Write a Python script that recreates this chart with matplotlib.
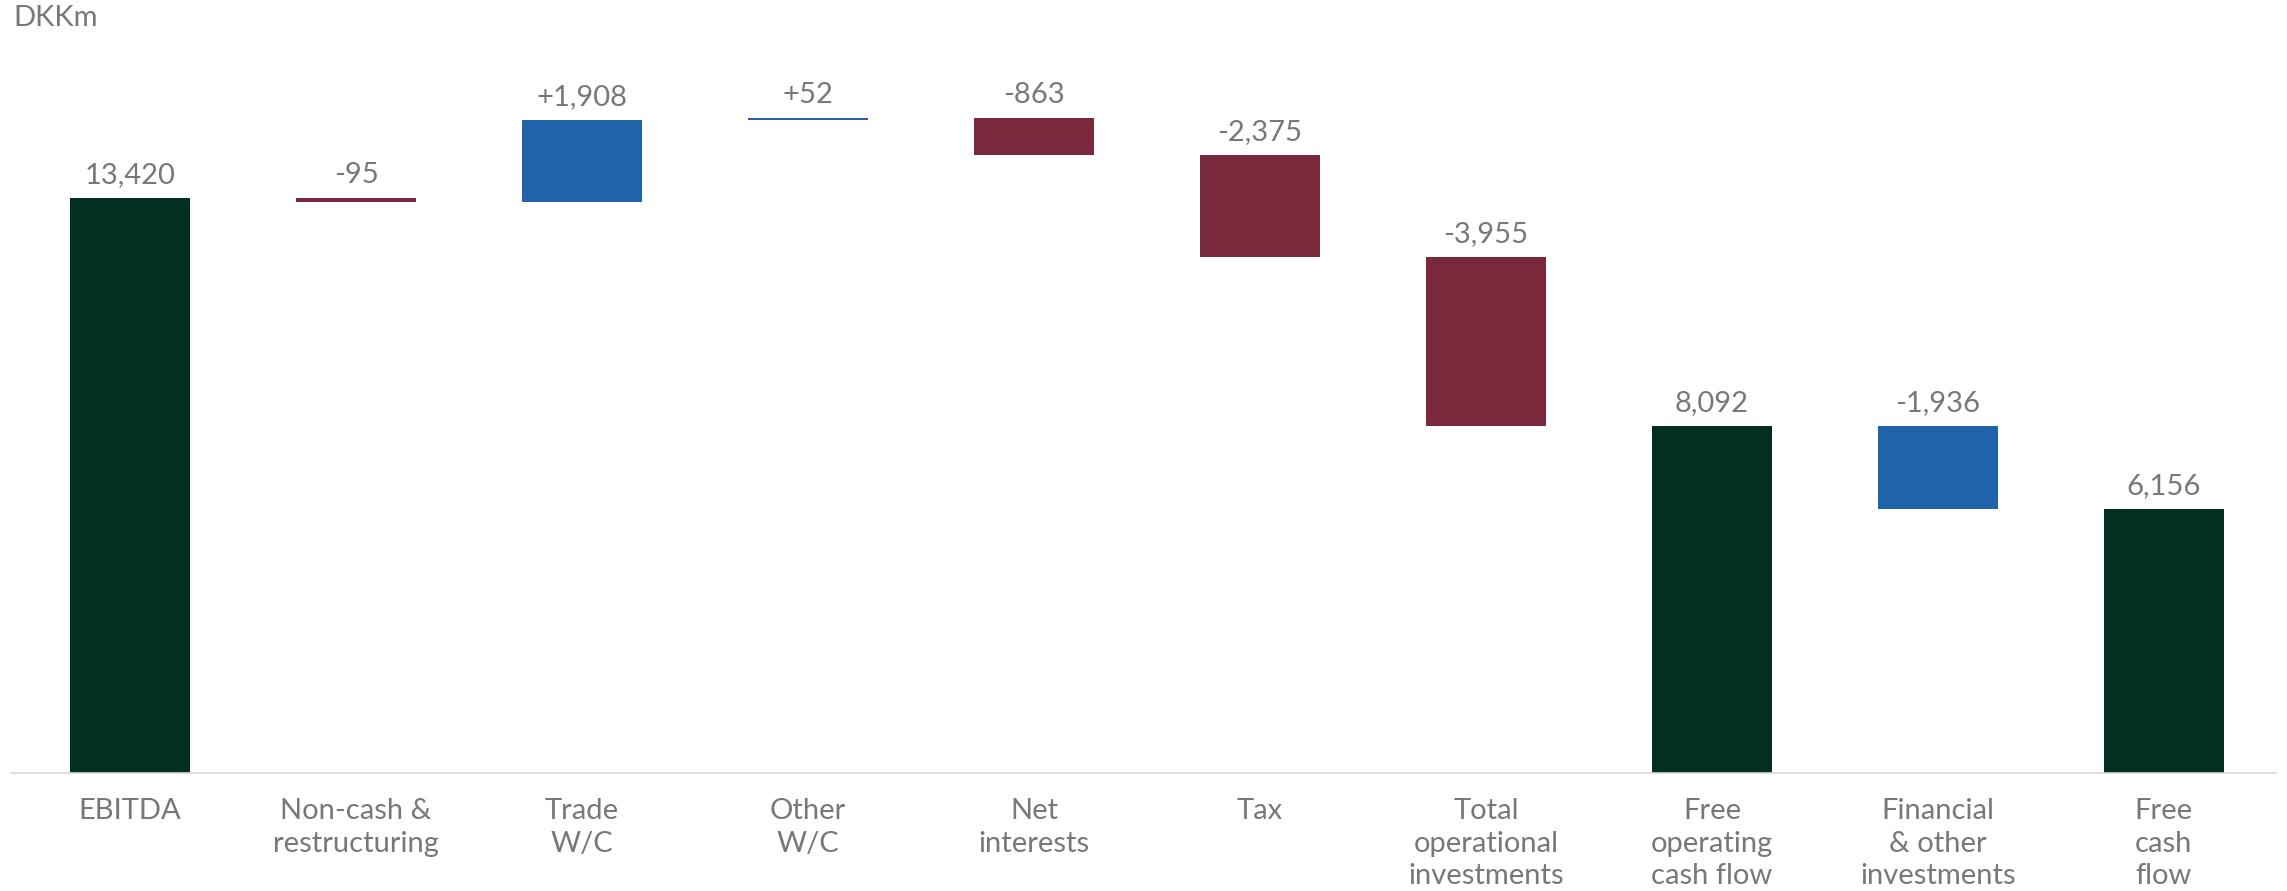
import matplotlib
matplotlib.use('Agg')
import matplotlib.pyplot as plt

plt.rcParams['font.family'] = ['Lato', 'DejaVu Sans']

categories = ['EBITDA', 'Non-cash &\nrestructuring', 'Trade\nW/C', 'Other\nW/C', 'Net\ninterests',
              'Tax', 'Total\noperational\ninvestments', 'Free\noperating\ncash flow',
              'Financial\n& other\ninvestments', 'Free\ncash\nflow']
values = [13420, -95, 1908, 52, -863, -2375, -3955, 8092, -1936, 6156]
value_labels = ['13,420', '-95', '+1,908', '+52', '-863', '-2,375', '-3,955', '8,092', '-1,936', '6,156']
bar_kind = ['total', 'neg', 'pos', 'pos', 'neg', 'neg', 'neg', 'total', 'other', 'total']

colors = {'total': '#03301E', 'neg': '#7A283B', 'pos': '#1F64AA', 'other': '#1F64AA'}
text_grey = '#787878'

# running totals for the waterfall
bottoms, heights = [], []
running = 0
for v, k in zip(values, bar_kind):
    if k == 'total':
        bottoms.append(0)
        heights.append(v)
        running = v
    else:
        if v >= 0:
            bottoms.append(running)
        else:
            bottoms.append(running + v)
        heights.append(abs(v))
        running += v

fig = plt.figure(figsize=(22.87, 8.91), dpi=100)
ax = fig.add_axes([11 / 2287, 118 / 891, 2265 / 2287, 733 / 891])

x = list(range(len(categories)))
ax.bar(x, heights, bottom=bottoms, width=0.53,
       color=[colors[k] for k in bar_kind], edgecolor='none', zorder=2)

for i in x:
    top = bottoms[i] + heights[i]
    ax.annotate(value_labels[i], (i, top), xytext=(0, 10.8), textcoords='offset points',
                ha='center', va='baseline', fontsize=21, color=text_grey)
    ax.annotate(categories[i], (i, 0), xytext=(0, -18), textcoords='offset points',
                ha='center', va='top', fontsize=21, color=text_grey, linespacing=1.32)

ax.set_xlim(-0.527, 9.496)
ax.set_ylim(0, 733 / 0.04285)
for s in ['top', 'left', 'right']:
    ax.spines[s].set_visible(False)
ax.spines['bottom'].set_color('#d9d9d9')
ax.spines['bottom'].set_linewidth(1.2)
ax.set_xticks([])
ax.set_yticks([])

fig.text(13 / 2287, 1 - 5 / 891, 'DKKm', ha='left', va='top', fontsize=21, color=text_grey)

fig.savefig('out.png', dpi=100, facecolor='white')
